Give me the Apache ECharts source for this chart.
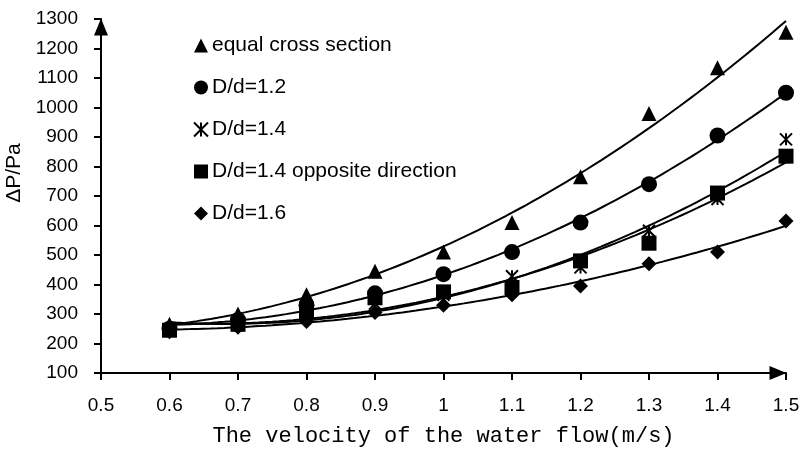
<!DOCTYPE html>
<html>
<head>
<meta charset="utf-8">
<script src="https://cdn.jsdelivr.net/npm/echarts@6/dist/echarts.min.js"></script>
<style>
  html, body { margin: 0; padding: 0; background: #fff; }
  #main { width: 805px; height: 452px; }
</style>
</head>
<body>
<div id="main"></div>
<script>
var velocity = [0.6, 0.7, 0.8, 0.9, 1.0, 1.1, 1.2, 1.3, 1.4, 1.5];
var equalSection = [265, 300, 365, 445, 510, 610, 765, 980, 1135, 1255];
var ratio12 = [250, 280, 330, 370, 435, 510, 610, 740, 905, 1050];
var ratio14 = [245, 270, 300, 335, 365, 428, 458, 582, 690, 892];
var ratio14Opp = [245, 265, 305, 355, 375, 390, 480, 540, 710, 835];
var ratio16 = [240, 255, 275, 305, 330, 365, 395, 470, 510, 615];
var seriesNames = ['equal cross section', 'D/d=1.2', 'D/d=1.4', 'D/d=1.4 opposite direction', 'D/d=1.6'];

var starPath = 'path://M0,0L10,10M10,0L0,10M5,0L5,10';

// 2nd order polynomial trendline (least squares)
function polyTrend(xs, ys) {
  var n = xs.length;
  var s = [0, 0, 0, 0, 0], t = [0, 0, 0];
  for (var i = 0; i < n; i++) {
    var p = 1;
    for (var k = 0; k < 5; k++) { s[k] += p; if (k < 3) t[k] += p * ys[i]; p *= xs[i]; }
  }
  var m = [[s[0], s[1], s[2], t[0]], [s[1], s[2], s[3], t[1]], [s[2], s[3], s[4], t[2]]];
  for (var c = 0; c < 3; c++) {
    for (var r = c + 1; r < 3; r++) {
      var f = m[r][c] / m[c][c];
      for (var q = c; q < 4; q++) m[r][q] -= f * m[c][q];
    }
  }
  var co = [0, 0, 0];
  for (var r2 = 2; r2 >= 0; r2--) {
    var v = m[r2][3];
    for (var q2 = r2 + 1; q2 < 3; q2++) v -= m[r2][q2] * co[q2];
    co[r2] = v / m[r2][r2];
  }
  var pts = [];
  for (var j = 0; j <= 90; j++) {
    var x = xs[0] + (xs[n - 1] - xs[0]) * j / 90;
    pts.push([x, co[0] + co[1] * x + co[2] * x * x]);
  }
  return pts;
}

function pairs(ys) {
  return velocity.map(function (v, i) { return [v, ys[i]]; });
}

var dataSets = [equalSection, ratio12, ratio14, ratio14Opp, ratio16];
var symbols = ['triangle', 'circle', starPath, 'rect', 'diamond'];
var sizes = [15, 16, 12, 15, 15];

var series = [];
dataSets.forEach(function (ys) {
  series.push({
    type: 'line',
    data: polyTrend(velocity, ys),
    showSymbol: false,
    symbol: 'none',
    lineStyle: { color: '#000', width: 2 },
    silent: true,
    z: 1
  });
});
dataSets.forEach(function (ys, i) {
  var st = { color: '#000', opacity: 1 };
  if (i === 2) { st.borderColor = '#000'; st.borderWidth = 2; }
  series.push({
    name: seriesNames[i],
    type: 'scatter',
    data: pairs(ys),
    symbol: symbols[i],
    symbolSize: sizes[i],
    itemStyle: st,
    z: 3
  });
});

var axisFont = { fontFamily: 'Liberation Sans', fontSize: 19, color: '#000' };

var myChart = echarts.init(document.getElementById('main'));
myChart.setOption({
  animation: false,
  backgroundColor: '#fff',
  grid: { left: 101, right: 19, top: 19, bottom: 79, containLabel: false, outerBoundsMode: 'none' },
  legend: {
    orient: 'vertical',
    left: 188,
    top: 30,
    itemWidth: 14,
    itemHeight: 14,
    itemGap: 21,
    textStyle: { fontFamily: 'Liberation Sans', fontSize: 21, color: '#000', padding: [0, 0, 0, -1] },
    data: seriesNames.map(function (n, i) {
      return {
        name: n,
        icon: symbols[i],
        itemStyle: i === 2 ? { color: '#000', borderColor: '#000', borderWidth: 2, opacity: 1 } : { color: '#000', opacity: 1 }
      };
    })
  },
  xAxis: {
    type: 'value',
    min: 0.5,
    max: 1.5,
    interval: 0.1,
    name: 'The velocity of the water flow(m/s)',
    nameLocation: 'middle',
    nameGap: 52,
    nameTextStyle: { fontFamily: 'Liberation Mono', fontSize: 22, color: '#000' },
    axisLine: { lineStyle: { color: '#000', width: 2 }, symbol: ['none', 'triangle'], symbolSize: [14, 17], symbolOffset: [0, -8] },
    axisTick: { show: true, length: 7, lineStyle: { color: '#000', width: 2 } },
    axisLabel: Object.assign({ margin: 23, formatter: function (v) { return +v.toFixed(1) + ''; } }, axisFont),
    splitLine: { show: false }
  },
  yAxis: {
    type: 'value',
    min: 100,
    max: 1300,
    interval: 100,
    name: 'ΔP/Pa',
    nameLocation: 'middle',
    nameGap: 70,
    nameTextStyle: { fontFamily: 'Liberation Sans', fontSize: 21, color: '#000', padding: [0, 0, 0, 46] },
    axisLine: { show: true, lineStyle: { color: '#000', width: 2 }, symbol: ['none', 'triangle'], symbolSize: [14, 17], symbolOffset: [0, -8] },
    axisTick: { show: true, length: 7, lineStyle: { color: '#000', width: 2 } },
    axisLabel: Object.assign({ margin: 23, formatter: function (v) { return String(v); } }, axisFont),
    splitLine: { show: false }
  },
  series: series
});
</script>
</body>
</html>
